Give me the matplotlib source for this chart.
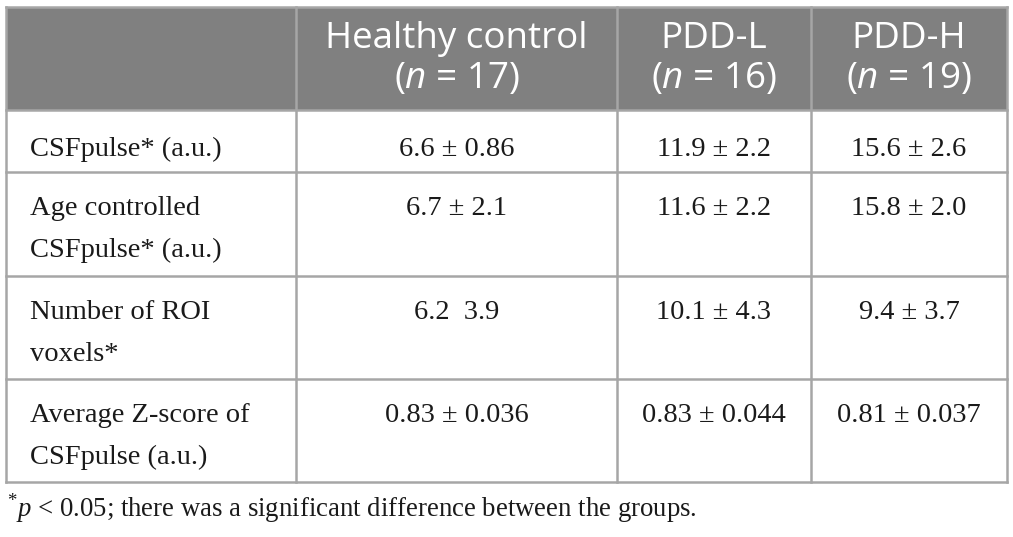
import matplotlib
matplotlib.use("Agg")
import matplotlib.pyplot as plt
from matplotlib.patches import Rectangle

plt.rcParams['mathtext.fontset'] = 'custom'
plt.rcParams['mathtext.it'] = 'Open Sans:italic'
plt.rcParams['mathtext.rm'] = 'Liberation Serif'
plt.rcParams['mathtext.sf'] = 'Liberation Serif:italic'

# ---- data ----
groups = ["Healthy control", "PDD-L", "PDD-H"]
group_n = [17, 16, 19]
row_labels = [
    ["CSFpulse* (a.u.)"],
    ["Age controlled", "CSFpulse* (a.u.)"],
    ["Number of ROI", "voxels*"],
    ["Average Z-score of", "CSFpulse (a.u.)"],
]
healthy_vals = ["6.6 \u00b1 0.86", "6.7 \u00b1 2.1", "6.2  3.9", "0.83 \u00b1 0.036"]
pddl_vals = ["11.9 \u00b1 2.2", "11.6 \u00b1 2.2", "10.1 \u00b1 4.3", "0.83 \u00b1 0.044"]
pddh_vals = ["15.6 \u00b1 2.6", "15.8 \u00b1 2.0", "9.4 \u00b1 3.7", "0.81 \u00b1 0.037"]
footnote = r"$^{*}\mathsf{p}$ < 0.05; there was a significant difference between the groups."

# ---- layout ----
W, H = 1013, 537
fig = plt.figure(figsize=(W / 100, H / 100), dpi=100)
ax = fig.add_axes([0, 0, 1, 1])
ax.set_xlim(0, W)
ax.set_ylim(H, 0)
ax.axis("off")

col_x = [6, 296, 617, 811, 1007]
row_y = [7, 110, 172, 276, 379, 482]
header_bg = "#808080"
line_c = "#a6a6a6"
lw = 1.8

ax.add_patch(Rectangle((col_x[0], row_y[0]), col_x[-1] - col_x[0], row_y[1] - row_y[0],
                       facecolor=header_bg, edgecolor="none", zorder=1))
for y in row_y:
    ax.plot([col_x[0], col_x[-1]], [y, y], color=line_c, lw=lw, zorder=2, solid_capstyle="projecting")
for x in col_x:
    ax.plot([x, x], [row_y[0], row_y[-1]], color=line_c, lw=lw, zorder=2, solid_capstyle="projecting")

hfont = dict(family="Open Sans", fontsize=26.5, color="white", ha="center", va="baseline", zorder=3)
for i, (g, n) in enumerate(zip(groups, group_n)):
    cx = (col_x[i + 1] + col_x[i + 2]) / 2
    ax.text(cx, 48, g, **hfont)
    ax.text(cx, 88, "($n$ = %d)" % n, **hfont)

bfont = dict(family="Liberation Serif", fontsize=20.5, color="#1a1a1a", va="baseline", zorder=3)
value_cols = [healthy_vals, pddl_vals, pddh_vals]
for r, lines in enumerate(row_labels):
    top = row_y[r + 1]
    base = top + (46 if r == 0 else 43)
    for k, ln in enumerate(lines):
        ax.text(30, base + 42 * k, ln, ha="left", **bfont)
    for c, vals in enumerate(value_cols):
        cx = (col_x[c + 1] + col_x[c + 2]) / 2
        ax.text(cx, base, vals[r], ha="center", **bfont)

ffont = dict(bfont)
ffont["fontsize"] = 19.3
ax.text(7, 517, footnote, ha="left", **ffont)

fig.savefig("out.png", dpi=100, facecolor="white")
